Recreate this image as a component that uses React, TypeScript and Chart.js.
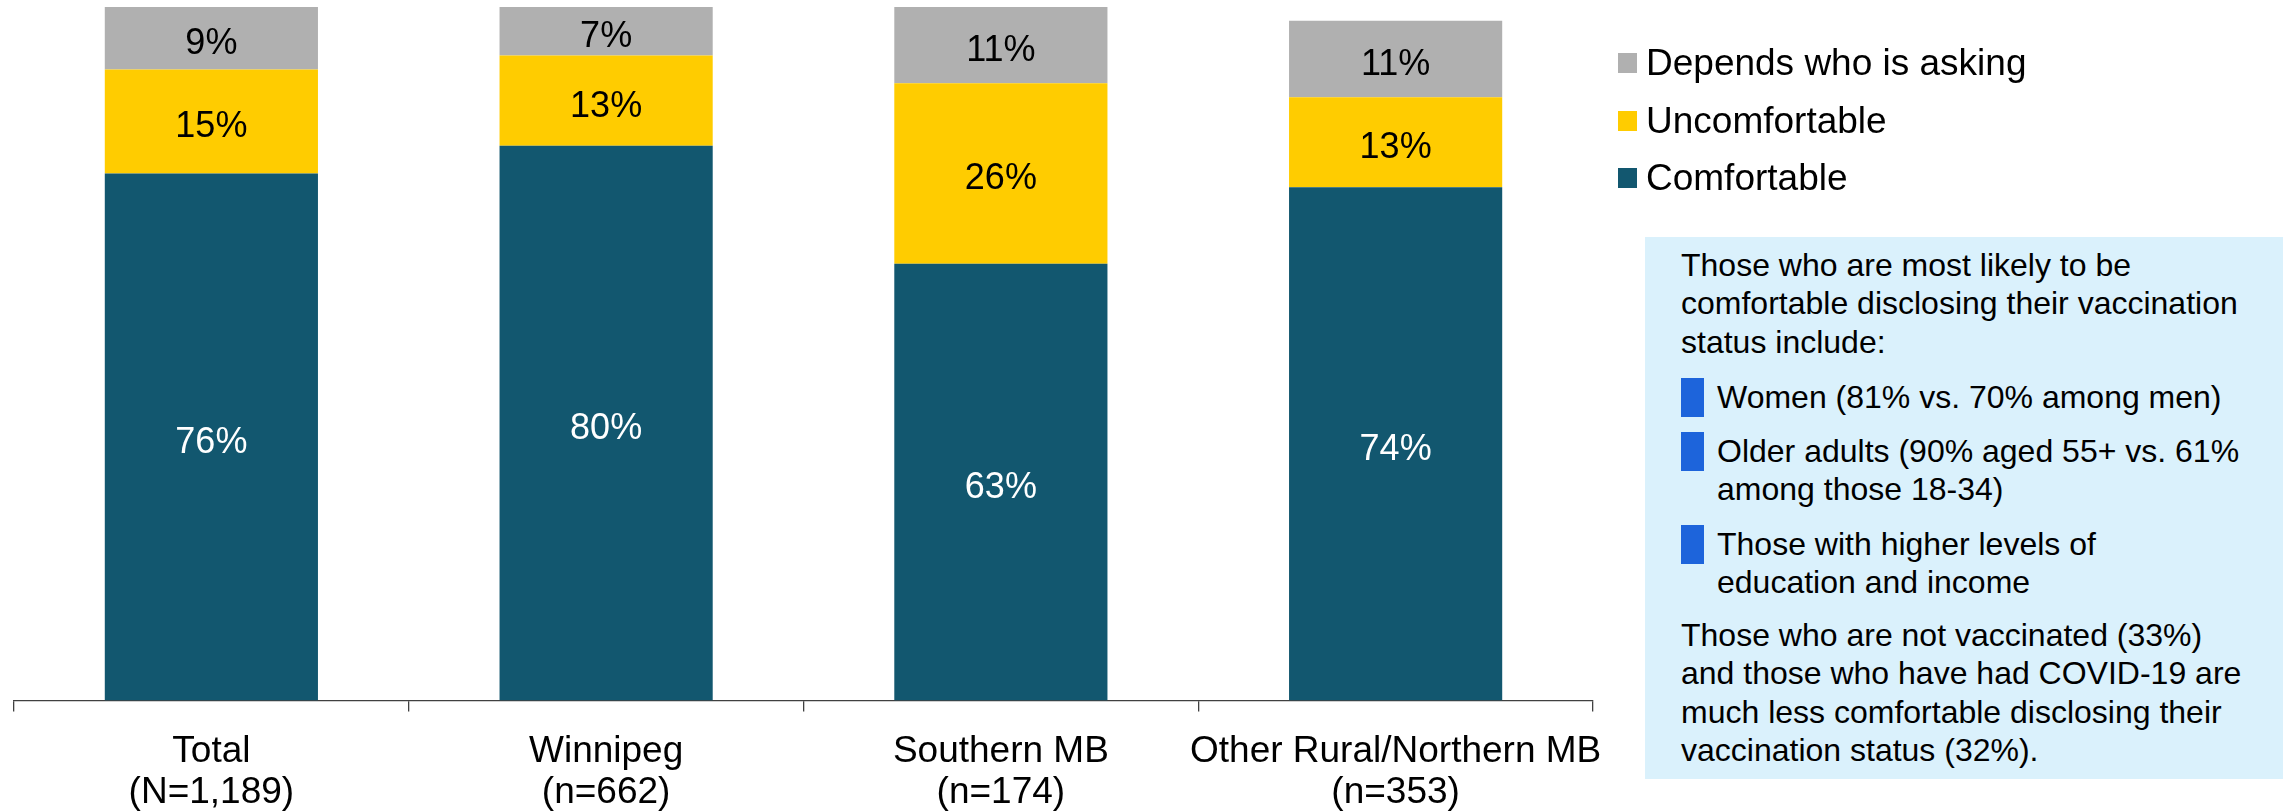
import React, { useEffect, useRef } from "react";
import { Chart, registerables } from "chart.js";

Chart.register(...registerables);

const categories: string[][] = [
  ["Total", "(N=1,189)"],
  ["Winnipeg", "(n=662)"],
  ["Southern MB", "(n=174)"],
  ["Other Rural/Northern MB", "(n=353)"],
];
const comfortable = [76, 80, 63, 74];
const uncomfortable = [15, 13, 26, 13];
const dependsWhoIsAsking = [9, 7, 11, 11];

const seriesNames = ["Comfortable", "Uncomfortable", "Depends who is asking"];
const seriesColors = ["#12576F", "#FFCC00", "#B0B0B0"];
const labelColors = ["#FFFFFF", "#000000", "#000000"];

const FONT = '"Liberation Sans", Arial, Helvetica, sans-serif';
const CANVAS_H = 836;

const dataLabelPlugin = {
  id: "segmentLabels",
  afterDatasetsDraw(chart: any) {
    const ctx = chart.ctx;
    ctx.save();
    ctx.font = `36px ${FONT}`;
    ctx.textAlign = "center";
    ctx.textBaseline = "middle";
    chart.data.datasets.forEach((ds: any, di: number) => {
      const meta = chart.getDatasetMeta(di);
      meta.data.forEach((el: any, i: number) => {
        const v = ds.data[i];
        const props = el.getProps(["x", "y", "base"], true);
        ctx.fillStyle = labelColors[di];
        ctx.fillText(`${v}%`, props.x, (props.y + props.base) / 2 + 6);
      });
    });
    ctx.restore();
  },
};

function ChartCanvas() {
  const ref = useRef<HTMLCanvasElement | null>(null);
  useEffect(() => {
    if (!ref.current) return;
    const chart = new Chart(ref.current, {
      type: "bar",
      data: {
        labels: categories,
        datasets: [comfortable, uncomfortable, dependsWhoIsAsking].map((d, i) => ({
          label: seriesNames[i],
          data: d,
          backgroundColor: seriesColors[i],
          borderWidth: 0,
          barPercentage: 0.54,
          categoryPercentage: 1,
        })),
      },
      options: {
        responsive: false,
        animation: false,
        devicePixelRatio: 1,
        layout: { padding: { left: 14, right: 694, top: 7, bottom: 3 } },
        plugins: {
          legend: { display: false },
          tooltip: { enabled: false },
          title: { display: false },
        },
        scales: {
          x: {
            stacked: true,
            offset: true,
            grid: {
              offset: true,
              drawOnChartArea: false,
              drawTicks: true,
              tickLength: 11,
              color: "#404040",
              lineWidth: 1.3,
            },
            border: { display: true, color: "#404040", width: 1.3 },
            ticks: {
              color: "#000000",
              padding: 20,
              maxRotation: 0,
              autoSkip: false,
              font: { family: FONT, size: 37, lineHeight: 1.1 },
            },
          },
          y: {
            stacked: true,
            display: false,
            min: 0,
            max: 100,
          },
        },
      },
      plugins: [dataLabelPlugin],
    });
    return () => chart.destroy();
  }, []);
  return (
    <canvas
      ref={ref}
      width={2287}
      height={CANVAS_H}
      style={{ position: "absolute", left: 0, top: 0, width: 2287, height: CANVAS_H }}
    />
  );
}

const legendRows = [
  { name: "Depends who is asking", color: "#B0B0B0", cy: 63 },
  { name: "Uncomfortable", color: "#FFCC00", cy: 121 },
  { name: "Comfortable", color: "#12576F", cy: 178 },
];

const lh = 38.5;

function Bullet({ lines, top }: { lines: string[]; top: number }) {
  return (
    <div style={{ position: "absolute", left: 0, top, width: 600 }}>
      <div
        style={{
          position: "absolute",
          left: 0,
          top: lh / 2 - 19.5,
          width: 23,
          height: 39,
          background: "#1D64DB",
        }}
      />
      <div style={{ position: "absolute", left: 36, top: 0, whiteSpace: "nowrap" }}>
        {lines.map((l, i) => (
          <div key={i} style={{ height: lh, lineHeight: `${lh}px` }}>
            {l}
          </div>
        ))}
      </div>
    </div>
  );
}

function Para({ lines, top }: { lines: string[]; top: number }) {
  return (
    <div style={{ position: "absolute", left: 0, top, whiteSpace: "nowrap" }}>
      {lines.map((l, i) => (
        <div key={i} style={{ height: lh, lineHeight: `${lh}px` }}>
          {l}
        </div>
      ))}
    </div>
  );
}

export default function App() {
  const boxTop = 237;
  const boxLeft = 1645;
  const rel = (cy: number) => cy - boxTop - lh / 2;
  return (
    <div
      style={{
        position: "fixed",
        left: 0,
        top: 0,
        width: 2287,
        height: 812,
        overflow: "hidden",
        background: "#ffffff",
        fontFamily: FONT,
        color: "#000",
      }}
    >
      <ChartCanvas />
      {legendRows.map((r) => (
        <div key={r.name}>
          <div
            style={{
              position: "absolute",
              left: 1618,
              top: r.cy - 10,
              width: 19,
              height: 20,
              background: r.color,
            }}
          />
          <div
            style={{
              position: "absolute",
              left: 1646,
              top: r.cy - 22,
              height: 44,
              lineHeight: "44px",
              fontSize: 37,
              whiteSpace: "nowrap",
            }}
          >
            {r.name}
          </div>
        </div>
      ))}
      <div
        style={{
          position: "absolute",
          left: boxLeft,
          top: boxTop,
          width: 2283 - boxLeft,
          height: 779 - boxTop,
          background: "#DAF1FC",
          fontSize: 32,
        }}
      >
        <div style={{ position: "absolute", left: 36, top: 0, width: 600, height: "100%" }}>
          <Para
            top={rel(265)}
            lines={[
              "Those who are most likely to be",
              "comfortable disclosing their vaccination",
              "status include:",
            ]}
          />
          <Bullet top={rel(397)} lines={["Women (81% vs. 70% among men)"]} />
          <Bullet
            top={rel(451)}
            lines={["Older adults (90% aged 55+ vs. 61%", "among those 18-34)"]}
          />
          <Bullet
            top={rel(544)}
            lines={["Those with higher levels of", "education and income"]}
          />
          <Para
            top={rel(635)}
            lines={[
              "Those who are not vaccinated (33%)",
              "and those who have had COVID-19 are",
              "much less comfortable disclosing their",
              "vaccination status (32%).",
            ]}
          />
        </div>
      </div>
    </div>
  );
}
